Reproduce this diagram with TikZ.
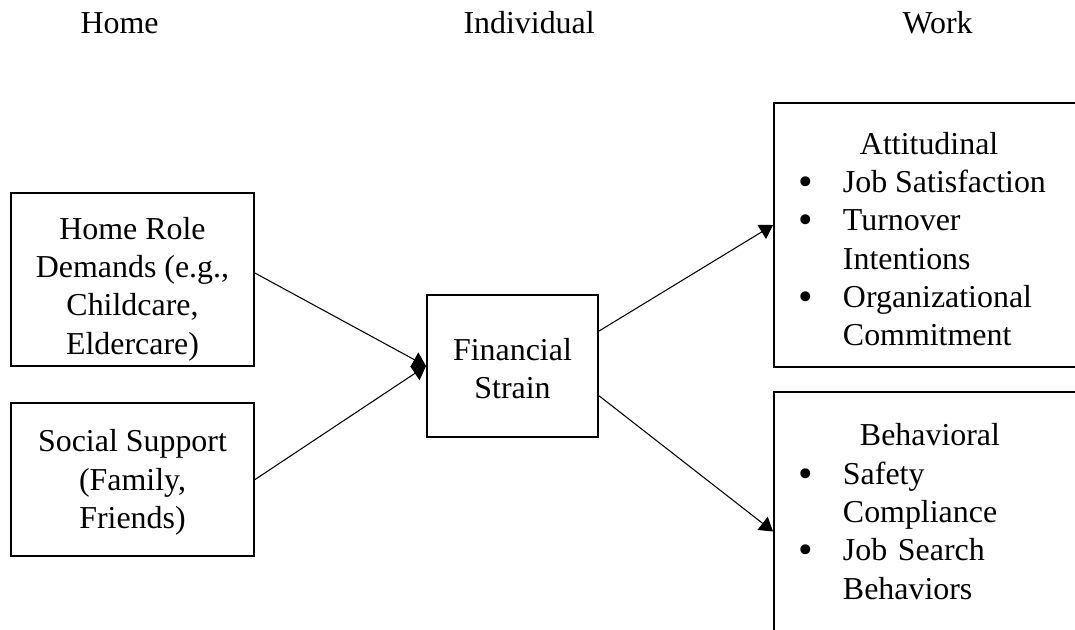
\documentclass[tikz,border=0pt]{standalone}
\usepackage{fontspec}
\setmainfont{Liberation Serif}
\usetikzlibrary{arrows.meta,calc}

\begin{document}
\begin{tikzpicture}[x=0.376pt,y=-0.376pt,
    box/.style={draw, line width=0.75pt, inner sep=0pt, align=center,
      font=\fontsize{12}{14.4}\selectfont},
    heading/.style={anchor=base west, inner sep=0pt, font=\fontsize{12}{14.4}\selectfont},
    link/.style={-{Triangle[length=5pt,width=6.2pt]}, line width=0.4pt}]
  \useasboundingbox (0,0) rectangle (1075,630);
  \newcommand{\bul}{\makebox[16.9pt][l]{\raisebox{-1.1pt}[0pt][0pt]{\scalebox{1.3}{\textbullet}}}}
  \newcommand{\ind}{\hspace*{16.9pt}}

  % Column headings
  \node[heading] (hhome) at (80,33) {Home};
  \node[heading] (hind) at (463,33) {Individual};
  \node[heading] (hwork) at (902,33) {Work};

  % Home
  \node[box, minimum width=91.4pt, minimum height=65pt] (demands) at (132.5,279.5)
    {\raisebox{-3.6pt}[\height][\depth]{\parbox{90pt}{\centering
      Home Role\\Demands (e.g.,\\Childcare,\\Eldercare)}}};
  \node[box, minimum width=91.4pt, minimum height=57.5pt] (support) at (132.5,479.5)
    {\raisebox{-1.1pt}[\height][\depth]{\parbox{90pt}{\centering
      Social Support\\(Family,\\Friends)}}};

  % Individual
  \node[box, minimum width=64.3pt, minimum height=53.4pt] (strain) at (512.5,366)
    {\raisebox{-1pt}[\height][\depth]{\parbox{60pt}{\centering Financial\\Strain}}};

  % Work
  \node[box, minimum width=115pt, minimum height=99.3pt] (attitude) at (927,235)
    {\raisebox{-1.5pt}[\height][\depth]{\parbox{97pt}{\raggedright
      \hspace*{23.3pt}Attitudinal\\\bul Job Satisfaction\\\bul Turnover\\\ind Intentions\\
      \bul Organizational\\\ind Commitment}}};
  \node[box, align=left, text width=97pt, minimum width=115pt, minimum height=89.9pt]
    (behavior) at (927,511.5)
    {\hspace*{23.3pt}Behavioral\\\bul Safety\\\ind Compliance\\\bul Job Search\\\ind Behaviors};

  % Paths
  \draw[link] (demands.3.5) -- (strain.west);
  \draw[link] (support.east) -- (strain.west);
  \draw[link] (strain.22.8) -- ($(attitude.west)+(0,-10)$);
  \draw[link] (strain.-19.3) -- ($(behavior.west)+(0,20)$);
\end{tikzpicture}
\end{document}
